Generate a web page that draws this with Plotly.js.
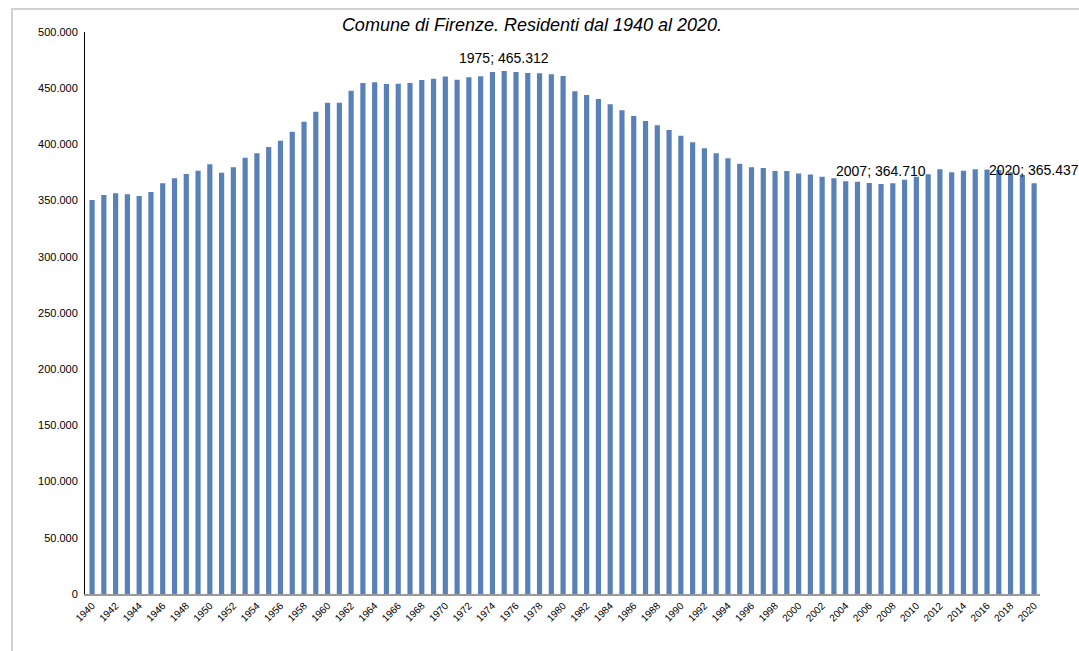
<!DOCTYPE html>
<html>
<head>
<meta charset="utf-8">
<script src="https://cdn.plot.ly/plotly-3.0.1.min.js"></script>
<style>
  html, body { margin: 0; padding: 0; background: #fff; overflow: hidden; }
  #chart { position: absolute; left: 0; top: 0; width: 1079px; height: 651px; }
  #frame { position: absolute; left: 11px; top: 8px; width: 1200px; height: 800px;
           border-left: 2px solid #d0d0d0; border-top: 2px solid #d0d0d0; pointer-events: none; }
</style>
</head>
<body>
<div id="chart"></div>
<div id="frame"></div>
<script>
const years = [];
for (let y = 1940; y <= 2020; y++) years.push(String(y));

const residents = [
  350500, 355000, 356500, 355600, 354000, 357700, 365400, 369800, 373700, 376600,
  382300, 374800, 379600, 388200, 392100, 397700, 403300, 411300, 420200, 429000,
  437000, 437000, 447800, 454600, 455200, 453700, 454000, 454600, 457300, 458500,
  460300, 457600, 459700, 460600, 464400, 465312, 464400, 463500, 463200, 462400,
  460800, 447200, 444000, 440400, 435700, 430300, 425300, 420800, 417000, 412800,
  407700, 401900, 396500, 392100, 387600, 382800, 379600, 379000, 376300, 376300,
  374000, 373200, 371300, 369800, 367200, 366800, 365700, 364710, 365400, 368600,
  371300, 373400, 377800, 375200, 376600, 377800, 377600, 377200, 375200, 372800,
  365437
];

const labelledYears = ['1975', '2007', '2020'];
const tickYears = years.filter((y, i) => i % 2 === 0);
const yTicks = [0, 50000, 100000, 150000, 200000, 250000, 300000, 350000, 400000, 450000, 500000];

const chartTitle = 'Comune di Firenze. Residenti dal 1940 al 2020.';

function fmt(n) {
  return String(n).replace(/\B(?=(\d{3})+(?!\d))/g, '.');
}

const FONT = 'Liberation Sans, Arial, sans-serif';

const annotations = labelledYears.map(y => {
  const i = years.indexOf(y);
  const v = residents[i];
  return {
    x: i, y: v, xref: 'x', yref: 'y',
    text: y + '; ' + fmt(v),
    showarrow: false,
    xanchor: 'center', yanchor: 'bottom', yshift: 3,
    font: { family: FONT, size: 14, color: '#000' }
  };
});

const trace = {
  type: 'bar',
  x: years,
  y: residents,
  marker: { color: '#5781b7', line: { width: 0 } },
  hoverinfo: 'x+y'
};

const layout = {
  width: 1079, height: 651,
  margin: { l: 85, r: 39, t: 32, b: 57 },
  paper_bgcolor: '#fff', plot_bgcolor: '#fff',
  separators: ',.',
  bargap: 0.56,
  showlegend: false,
  font: { family: FONT, color: '#000' },
  title: {
    text: '<i>' + chartTitle + '</i>',
    font: { family: FONT, size: 18, color: '#000' },
    x: 532 / 1079, xref: 'container', xanchor: 'center',
    y: 1 - 25 / 651, yref: 'container', yanchor: 'middle'
  },
  xaxis: {
    type: 'category',
    range: [-0.6, 80.5],
    tickmode: 'array',
    tickvals: tickYears,
    ticktext: tickYears,
    tickangle: -45,
    tickfont: { family: FONT, size: 10, color: '#000' },
    showgrid: false,
    showline: true, linecolor: '#9a9a9a', linewidth: 2,
    ticks: '', zeroline: false
  },
  yaxis: {
    range: [0, 500000],
    tickmode: 'array',
    tickvals: yTicks,
    ticktext: yTicks.map(fmt),
    tickfont: { family: FONT, size: 11, color: '#000' },
    showgrid: false,
    showline: true, linecolor: '#000', linewidth: 1,
    ticks: '', zeroline: false,
    ticklabelstandoff: 4
  },
  annotations: annotations
};

Plotly.newPlot('chart', [trace], layout, { displayModeBar: false, staticPlot: true });
</script>
</body>
</html>
